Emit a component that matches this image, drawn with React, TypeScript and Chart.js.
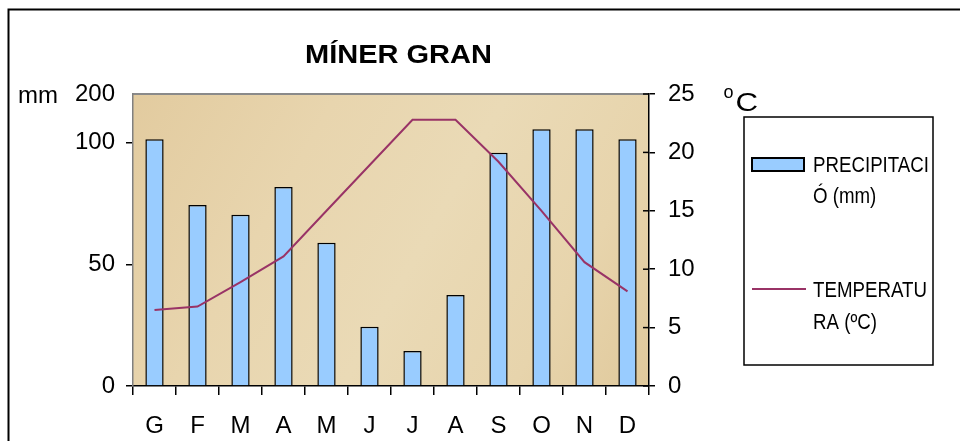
import React, { useEffect, useRef } from "react";
import { Chart, registerables } from "chart.js";

Chart.register(...registerables);

const TITLE = "MÍNER GRAN";
const MONTHS = ["G", "F", "M", "A", "M", "J", "J", "A", "S", "O", "N", "D"];
const PRECIP_MM = [101.4, 74.4, 70.4, 81.8, 58.9, 24.3, 14.4, 37.4, 95.9, 105.5, 105.5, 101.4];
const TEMP_C = [6.5, 6.8, 8.9, 11.1, 15.0, 18.9, 22.8, 22.8, 19.2, 15.0, 10.6, 8.1];
const PRECIP_TICKS = [0, 50, 100, 120];
const PRECIP_TICK_LABELS = ["0", "50", "100", "200"];
const TEMP_TICKS = [0, 5, 10, 15, 20, 25];
const PRECIP_LEGEND = ["PRECIPITACI", "Ó (mm)"];
const TEMP_LEGEND = ["TEMPERATU", "RA (ºC)"];
const LEFT_UNIT = "mm";

const FONT = "'Liberation Sans', Arial, sans-serif";
const BAR_COLOR = "#99ccff";
const LINE_COLOR = "#993366";

const decorPlugin = {
  id: "decor",
  beforeDraw(chart: any) {
    const { ctx, chartArea: a } = chart;
    ctx.save();
    // outer frame
    ctx.strokeStyle = "#000";
    ctx.lineWidth = 2;
    ctx.beginPath();
    ctx.moveTo(960, 9.5);
    ctx.lineTo(8.5, 9.5);
    ctx.lineTo(8.5, 441);
    ctx.stroke();
    // plot background
    const g = ctx.createLinearGradient(a.left, a.top, a.right, a.bottom);
    g.addColorStop(0, "#e2cb9f");
    g.addColorStop(0.3, "#e8d5ae");
    g.addColorStop(0.55, "#eadab6");
    g.addColorStop(0.8, "#e7d4ac");
    g.addColorStop(1, "#e0c99c");
    ctx.fillStyle = g;
    ctx.fillRect(a.left, a.top, a.right - a.left, a.bottom - a.top);
    // top border
    ctx.strokeStyle = "#8a8a8a";
    ctx.lineWidth = 2;
    ctx.beginPath();
    ctx.moveTo(a.left, a.top);
    ctx.lineTo(a.right, a.top);
    ctx.stroke();
    ctx.restore();
  },
  afterDraw(chart: any) {
    const { ctx, chartArea: a } = chart;
    const y2 = chart.scales.y2;
    ctx.save();
    // inward ticks on right axis
    ctx.strokeStyle = "#000";
    ctx.lineWidth = 1.5;
    TEMP_TICKS.forEach((v) => {
      const y = y2.getPixelForValue(v);
      ctx.beginPath();
      ctx.moveTo(a.right - 6, y);
      ctx.lineTo(a.right, y);
      ctx.stroke();
    });
    ctx.fillStyle = "#000";
    // title
    ctx.save();
    ctx.font = `bold 25px ${FONT}`;
    ctx.textAlign = "center";
    ctx.textBaseline = "alphabetic";
    ctx.translate(398.5, 63);
    ctx.scale(1.16, 1);
    ctx.fillText(TITLE, 0, 0);
    ctx.restore();
    // mm
    ctx.font = `24px ${FONT}`;
    ctx.textAlign = "left";
    ctx.fillText(LEFT_UNIT, 18, 103);
    // °C
    ctx.font = `18px ${FONT}`;
    ctx.fillText("o", 723.5, 97.5);
    ctx.save();
    ctx.font = `25px ${FONT}`;
    ctx.translate(735.5, 111);
    ctx.scale(1.25, 1);
    ctx.fillText("C", 0, 0);
    ctx.restore();
    // legend box
    ctx.strokeStyle = "#000";
    ctx.lineWidth = 1.5;
    ctx.strokeRect(744, 117, 189, 248);
    // bar swatch
    ctx.fillStyle = BAR_COLOR;
    ctx.fillRect(752, 158, 52, 13);
    ctx.lineWidth = 2;
    ctx.strokeRect(752, 158, 52, 13);
    // line swatch
    ctx.strokeStyle = LINE_COLOR;
    ctx.lineWidth = 2;
    ctx.beginPath();
    ctx.moveTo(752, 289);
    ctx.lineTo(806, 289);
    ctx.stroke();
    // legend text
    ctx.fillStyle = "#000";
    const drawLine = (t: string, x: number, y: number) => {
      ctx.save();
      ctx.font = `22px ${FONT}`;
      ctx.translate(x, y);
      ctx.scale(0.85, 1);
      ctx.fillText(t, 0, 0);
      ctx.restore();
    };
    drawLine(PRECIP_LEGEND[0], 813, 171.7);
    drawLine(PRECIP_LEGEND[1], 813, 203.3);
    drawLine(TEMP_LEGEND[0], 813, 297);
    drawLine(TEMP_LEGEND[1], 813, 328.6);
    ctx.restore();
  },
};

export default function App() {
  const ref = useRef<HTMLCanvasElement | null>(null);

  useEffect(() => {
    if (!ref.current) return;
    const tickFont = { family: FONT, size: 24 };
    const chart = new Chart(ref.current, {
      type: "bar",
      data: {
        labels: MONTHS,
        datasets: [
          {
            type: "line",
            label: TEMP_LEGEND.join(""),
            data: TEMP_C,
            yAxisID: "y2",
            borderColor: LINE_COLOR,
            borderWidth: 2,
            pointRadius: 0,
            tension: 0,
            fill: false,
            order: 0,
          } as any,
          {
            type: "bar",
            label: PRECIP_LEGEND.join(""),
            data: PRECIP_MM,
            yAxisID: "y",
            backgroundColor: BAR_COLOR,
            borderColor: "#000",
            borderWidth: 1.5,
            barPercentage: 0.425,
            categoryPercentage: 1,
            order: 1,
          } as any,
        ],
      },
      options: {
        animation: false,
        responsive: false,
        maintainAspectRatio: false,
        layout: { padding: { top: 94, left: 0, right: 0, bottom: 0 } },
        plugins: {
          legend: { display: false },
          title: { display: false },
          tooltip: { enabled: false },
        },
        scales: {
          x: {
            offset: true,
            grid: {
              offset: true,
              drawOnChartArea: false,
              color: "#000",
              tickLength: 9,
              lineWidth: 1.5,
            },
            border: { color: "#000", width: 1.5 },
            ticks: {
              font: tickFont,
              color: "#000",
              padding: 17,
              maxRotation: 0,
              autoSkip: false,
            },
            afterFit: (s: any) => {
              s.height = 55;
            },
          },
          y: {
            position: "left",
            min: 0,
            max: 120,
            afterBuildTicks: (s: any) => {
              s.ticks = PRECIP_TICKS.map((v) => ({ value: v }));
            },
            ticks: {
              font: tickFont,
              color: "#000",
              padding: 11,
              callback: (v: any) => PRECIP_TICK_LABELS[PRECIP_TICKS.indexOf(Number(v))],
            },
            grid: {
              drawOnChartArea: false,
              tickLength: 7,
              lineWidth: 1.5,
              color: (c: any) =>
                c.tick && c.tick.value === 120 ? "rgba(0,0,0,0)" : "#000",
            },
            border: { color: "#808080", width: 1.5 },
            afterFit: (s: any) => {
              s.width = 133;
            },
          },
          y2: {
            position: "right",
            min: 0,
            max: 25,
            afterBuildTicks: (s: any) => {
              s.ticks = TEMP_TICKS.map((v) => ({ value: v }));
            },
            ticks: {
              font: tickFont,
              color: "#000",
              padding: 13,
            },
            grid: {
              drawOnChartArea: false,
              tickLength: 6,
              lineWidth: 1.5,
              color: "#000",
            },
            border: { color: "#000", width: 1.5 },
            afterFit: (s: any) => {
              s.width = 311;
            },
          },
        },
      } as any,
      plugins: [decorPlugin],
    });
    return () => chart.destroy();
  }, []);

  return (
    <div style={{ position: "fixed", left: 0, top: 0, width: 960, height: 441, background: "#fff" }}>
      <canvas ref={ref} width={960} height={441} style={{ display: "block", width: 960, height: 441 }} />
    </div>
  );
}
